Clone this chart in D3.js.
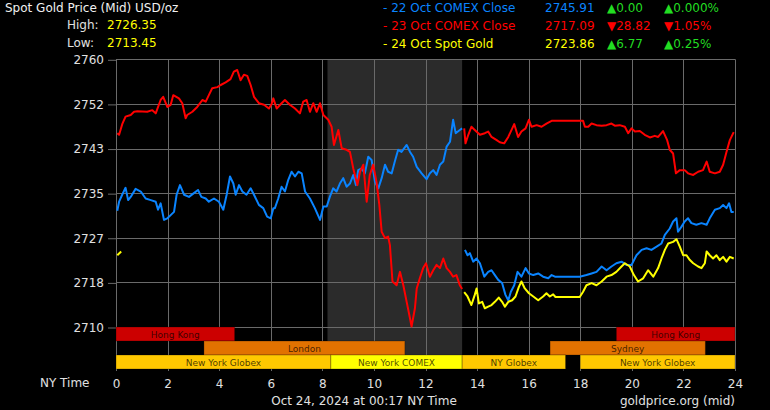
<!DOCTYPE html>
<html>
<head>
<meta charset="utf-8">
<script src="https://cdn.jsdelivr.net/npm/d3@7/dist/d3.min.js"></script>
<style>
  body { margin: 0; background: #000; }
  svg text { font-family: "DejaVu Sans", Verdana, sans-serif; }
</style>
</head>
<body>
<div id="chart"></div>
<script>
// ---- data ----
const yTicks = [2710, 2718.33, 2726.67, 2735, 2743.33, 2751.67, 2760];
const xTicks = [0, 2, 4, 6, 8, 10, 12, 14, 16, 18, 20, 22, 24];

// [hour, price] - 22 Oct line, before and after the COMEX close
const blueA = [[0.05,2731.7],[0.12,2733.4],[0.24,2734.7],[0.37,2736.0],[0.47,2733.7],[0.57,2734.3],[0.76,2735.8],[0.96,2735.3],[1.15,2734.0],[1.35,2733.7],[1.54,2733.4],[1.63,2731.9],[1.73,2733.1],[1.86,2730.0],[1.99,2730.3],[2.12,2730.9],[2.25,2731.5],[2.35,2734.7],[2.48,2736.5],[2.64,2734.7],[2.83,2734.3],[3.02,2735.0],[3.18,2735.6],[3.31,2734.3],[3.48,2734.0],[3.60,2733.4],[3.80,2734.0],[3.99,2733.4],[4.16,2731.9],[4.29,2734.7],[4.42,2738.1],[4.55,2736.8],[4.64,2734.7],[4.77,2736.5],[4.90,2735.3],[5.06,2734.7],[5.22,2735.9],[5.35,2734.7],[5.54,2732.8],[5.71,2732.2],[5.86,2730.6],[6.00,2730.3],[6.10,2732.2],[6.16,2732.2],[6.29,2734.0],[6.42,2736.2],[6.55,2735.3],[6.68,2737.5],[6.81,2739.0],[6.94,2738.1],[7.07,2739.0],[7.20,2738.7],[7.33,2735.3],[7.52,2734.0],[7.71,2732.2],[7.91,2730.0],[8.04,2732.5],[8.17,2732.5],[8.29,2734.3],[8.42,2735.9],[8.55,2735.3],[8.68,2736.8],[8.81,2737.8],[8.94,2736.2],[9.07,2736.8],[9.20,2738.4],[9.30,2736.5],[9.39,2739.3],[9.52,2739.6],[9.65,2738.7],[9.78,2741.8],[9.91,2741.2],[10.04,2737.1],[10.17,2735.9],[10.30,2737.8],[10.43,2740.3],[10.55,2739.0],[10.69,2738.7],[10.81,2740.9],[10.94,2743.1],[11.07,2742.7],[11.27,2744.0],[11.40,2742.7],[11.52,2741.8],[11.66,2739.9],[11.85,2738.7],[12.04,2737.6],[12.17,2738.7],[12.30,2739.3],[12.43,2738.4],[12.56,2740.3],[12.69,2740.9],[12.82,2743.7],[12.95,2744.6],[13.07,2748.7],[13.17,2746.2],[13.33,2746.8],[13.42,2747.1]];
const blueB = [[13.53,2724.4],[13.63,2723.4],[13.72,2723.8],[13.85,2722.2],[13.98,2722.8],[14.11,2721.9],[14.28,2719.4],[14.43,2720.3],[14.56,2720.6],[14.69,2719.7],[14.82,2718.8],[14.97,2718.2],[15.10,2716.0],[15.21,2715.0],[15.31,2716.6],[15.44,2717.8],[15.57,2720.3],[15.72,2719.4],[15.88,2721.0],[16.01,2720.0],[16.18,2719.7],[16.37,2720.0],[16.56,2719.4],[16.76,2719.1],[16.89,2719.7],[17.02,2719.4],[17.98,2719.4],[18.24,2719.7],[18.44,2720.0],[18.63,2720.3],[18.83,2721.3],[19.02,2720.6],[19.21,2721.3],[19.40,2721.9],[19.60,2722.2],[19.79,2721.6],[19.99,2721.6],[20.18,2723.4],[20.38,2724.4],[20.57,2724.7],[20.76,2724.4],[20.96,2725.0],[21.15,2725.6],[21.28,2727.2],[21.47,2728.4],[21.60,2729.7],[21.73,2730.3],[21.79,2727.8],[21.92,2728.7],[22.05,2729.7],[22.18,2730.3],[22.31,2729.4],[22.50,2729.1],[22.70,2729.4],[22.90,2729.1],[23.02,2730.3],[23.22,2731.9],[23.41,2732.2],[23.54,2732.8],[23.67,2732.2],[23.77,2733.1],[23.86,2731.5],[23.95,2731.5]];

// 23 Oct line
const redA = [[0.05,2746.2],[0.12,2745.9],[0.25,2748.0],[0.37,2749.3],[0.57,2749.6],[0.70,2750.2],[0.83,2750.3],[1.21,2750.2],[1.41,2750.5],[1.54,2749.9],[1.73,2752.4],[1.83,2753.0],[1.99,2751.1],[2.12,2751.5],[2.22,2753.3],[2.44,2752.7],[2.57,2751.8],[2.70,2749.0],[2.76,2749.6],[2.96,2750.2],[3.15,2751.1],[3.35,2752.4],[3.48,2752.1],[3.60,2753.3],[3.73,2754.6],[3.93,2754.8],[4.06,2755.2],[4.25,2755.7],[4.44,2756.3],[4.57,2757.7],[4.70,2758.0],[4.83,2756.1],[4.96,2757.1],[5.09,2756.9],[5.22,2755.2],[5.35,2753.0],[5.54,2751.8],[5.74,2751.5],[5.93,2750.8],[6.03,2751.6],[6.10,2752.7],[6.23,2750.8],[6.42,2751.8],[6.55,2752.4],[6.74,2751.5],[6.94,2750.8],[7.13,2749.9],[7.26,2752.1],[7.39,2752.4],[7.52,2750.2],[7.65,2751.8],[7.78,2750.2],[7.91,2751.8],[8.04,2749.6],[8.23,2748.7],[8.36,2747.4],[8.45,2744.0],[8.62,2746.8],[8.75,2743.4],[8.94,2743.1],[9.07,2742.7],[9.20,2739.6],[9.36,2736.5],[9.46,2739.0],[9.59,2740.3],[9.72,2733.4],[9.84,2738.4],[9.97,2740.3],[10.10,2737.1],[10.21,2732.8],[10.30,2727.8],[10.43,2726.6],[10.55,2726.9],[10.62,2725.3],[10.72,2718.5],[10.88,2717.8],[11.01,2720.3],[11.14,2717.8],[11.27,2714.7],[11.40,2711.6],[11.46,2710.1],[11.59,2713.5],[11.66,2717.2],[11.78,2719.1],[11.91,2721.0],[12.02,2721.9],[12.17,2719.4],[12.30,2720.6],[12.43,2721.6],[12.56,2721.0],[12.69,2722.8],[12.82,2721.0],[12.95,2720.3],[13.07,2719.4],[13.20,2719.7],[13.33,2717.8],[13.42,2717.1]];
const redB = [[13.50,2747.1],[13.55,2744.3],[13.66,2745.9],[13.78,2747.4],[13.91,2746.8],[14.11,2745.9],[14.30,2746.2],[14.43,2746.5],[14.56,2745.5],[14.76,2744.9],[14.88,2744.5],[15.05,2744.3],[15.21,2745.5],[15.44,2747.9],[15.59,2745.5],[15.72,2746.5],[15.88,2747.1],[16.01,2748.7],[16.11,2747.4],[16.31,2747.7],[16.50,2747.4],[16.69,2748.0],[16.89,2748.5],[18.11,2748.5],[18.18,2747.4],[18.31,2747.4],[18.44,2748.0],[18.63,2747.7],[18.83,2747.6],[19.02,2747.7],[19.21,2748.0],[19.34,2747.6],[19.53,2747.7],[19.73,2747.4],[19.86,2746.2],[19.99,2747.1],[20.12,2746.5],[20.31,2746.6],[20.50,2745.9],[20.70,2745.4],[20.89,2745.7],[21.02,2745.5],[21.21,2746.6],[21.37,2744.9],[21.47,2743.1],[21.60,2742.4],[21.71,2738.7],[21.86,2739.3],[22.05,2739.3],[22.18,2738.7],[22.38,2738.4],[22.57,2739.0],[22.76,2739.3],[22.90,2740.9],[23.02,2739.0],[23.22,2738.7],[23.41,2739.0],[23.54,2740.3],[23.67,2742.7],[23.80,2744.9],[23.95,2746.4]];

// 24 Oct spot
const yellowA = [[0.05,2723.4],[0.20,2724.1]];
const yellowB = [[13.50,2716.5],[13.63,2715.7],[13.78,2714.1],[13.91,2716.0],[13.98,2717.2],[14.07,2714.4],[14.20,2714.7],[14.30,2713.5],[14.43,2713.8],[14.56,2714.1],[14.69,2714.7],[14.84,2715.5],[14.97,2714.7],[15.08,2713.8],[15.21,2714.7],[15.36,2715.0],[15.49,2715.7],[15.62,2717.5],[15.72,2718.5],[15.85,2717.2],[16.01,2716.3],[16.18,2715.7],[16.37,2715.0],[16.56,2715.7],[16.69,2716.3],[16.82,2715.7],[16.95,2716.1],[17.04,2715.6],[17.98,2715.6],[18.11,2716.6],[18.24,2717.8],[18.44,2718.2],[18.63,2717.8],[18.83,2718.5],[19.02,2719.4],[19.21,2719.7],[19.40,2720.3],[19.60,2721.3],[19.73,2721.9],[19.92,2721.3],[20.08,2719.7],[20.24,2718.5],[20.44,2719.1],[20.63,2720.6],[20.83,2719.4],[21.02,2721.0],[21.15,2722.8],[21.28,2724.4],[21.41,2725.6],[21.60,2725.9],[21.73,2726.4],[21.86,2725.0],[21.99,2723.4],[22.12,2723.4],[22.25,2722.5],[22.38,2721.9],[22.57,2721.3],[22.70,2721.0],[22.83,2721.9],[22.90,2724.1],[23.02,2723.4],[23.15,2722.8],[23.28,2723.4],[23.41,2722.5],[23.54,2723.1],[23.67,2722.2],[23.80,2723.1],[23.95,2722.8]];

// COMEX session shading (hours)
const comexShade = [8.2, 13.42];

// trading sessions
const sessionNames  = ["Hong Kong", "Hong Kong", "London", "Sydney", "New York Globex", "New York COMEX", "NY Globex", "New York Globex"];
const sessionStarts = [0, 19.4, 3.41, 16.83, 0, 8.33, 13.42, 18.0];
const sessionEnds   = [4.6, 24, 11.2, 22.85, 8.33, 13.42, 17.43, 24];
const sessionRows   = [0, 0, 1, 1, 2, 2, 2, 2];

// header
const highLow = [["High:", "2726.35"], ["Low:", "2713.45"]];
const legendLabels = ["- 22 Oct COMEX Close", "- 23 Oct COMEX Close", "- 24 Oct Spot Gold"];
const legendPrices = ["2745.91", "2717.09", "2723.86"];
const legendChanges = ["0.00", "28.82", "6.77"];
const legendPcts = ["0.000%", "1.05%", "0.25%"];
const legendUp = [true, false, true];

// ---- drawing ----
const W = 770, H = 410;
const plotL = 116, plotR = 735, plotT = 59.3, plotB = 327;
const sessTop = 327, rowH = 14;

const svg = d3.select("#chart").append("svg")
    .attr("width", W).attr("height", H)
    .style("background", "#000")
    .style("display", "block");

const x = d3.scaleLinear().domain([0, 24]).range([plotL, plotR]);
const y = d3.scaleLinear().domain([2710, 2760]).range([plotB, plotT]);

const seriesColor = ["#0a84ff", "#ff0000", "#ffff00"];
const gridColor = "#6a6a6a";

// shaded COMEX hours
svg.append("rect")
    .attr("x", x(comexShade[0]))
    .attr("y", plotT)
    .attr("width", x(comexShade[1]) - x(comexShade[0]))
    .attr("height", sessTop + 3 * rowH - plotT)
    .attr("fill", "#2b2b2b");

// vertical grid
svg.append("g").selectAll("line")
  .data(xTicks)
  .join("line")
    .attr("x1", d => Math.round(x(d)) + 0.5)
    .attr("x2", d => Math.round(x(d)) + 0.5)
    .attr("y1", plotT)
    .attr("y2", sessTop + 3 * rowH + 2)
    .attr("stroke", gridColor);

// horizontal grid
svg.append("g").selectAll("line")
  .data(yTicks)
  .join("line")
    .attr("x1", plotL)
    .attr("x2", plotR)
    .attr("y1", d => Math.round(y(d)) + 0.5)
    .attr("y2", d => Math.round(y(d)) + 0.5)
    .attr("stroke", gridColor);

// y axis
const yAxis = svg.append("g")
    .attr("transform", `translate(${plotL},0.5)`)
    .call(d3.axisLeft(y).tickValues(yTicks).tickSize(8).tickPadding(4).tickFormat(d3.format(".0f")));
yAxis.select(".domain").remove();
yAxis.selectAll("line").attr("stroke", gridColor);
yAxis.selectAll("text").attr("fill", "#e0e0e0").attr("font-size", 12)
    .attr("font-family", "DejaVu Sans, sans-serif");

// x axis
const xAxis = svg.append("g")
    .attr("transform", `translate(0,${sessTop + 3 * rowH + 2})`)
    .call(d3.axisBottom(x).tickValues(xTicks).tickSize(0).tickPadding(8));
xAxis.select(".domain").remove();
xAxis.selectAll("text").attr("fill", "#e0e0e0").attr("font-size", 12)
    .attr("font-family", "DejaVu Sans, sans-serif");

svg.append("text")
    .attr("x", 40).attr("y", 386.5)
    .attr("fill", "#e0e0e0").attr("font-size", 12)
    .text("NY Time");

// price lines
const line = d3.line().x(d => x(d[0])).y(d => y(d[1]));
const segments = [
  [blueA, 0], [blueB, 0],
  [redA, 1], [redB, 1],
  [yellowA, 2], [yellowB, 2]
];
svg.append("g").selectAll("path")
  .data(segments)
  .join("path")
    .attr("d", d => line(d[0]))
    .attr("fill", "none")
    .attr("stroke", d => seriesColor[d[1]])
    .attr("stroke-width", 2)
    .attr("stroke-linejoin", "round");

// session bars
const sessColor = name => name === "Hong Kong" ? "#cc0000"
  : (name === "London" || name === "Sydney") ? "#e27200"
  : name === "New York COMEX" ? "#ffff00" : "#ffc800";
const sess = svg.append("g").selectAll("g")
  .data(sessionNames.map((n, i) => ({ n, s: sessionStarts[i], e: sessionEnds[i], r: sessionRows[i] })))
  .join("g");
sess.append("rect")
    .attr("x", d => x(d.s))
    .attr("y", d => sessTop + d.r * rowH)
    .attr("width", d => x(d.e) - x(d.s))
    .attr("height", rowH)
    .attr("fill", d => sessColor(d.n))
    .attr("stroke", "rgba(0,0,0,0.25)")
    .attr("stroke-width", 1);
sess.append("text")
    .attr("x", d => (x(d.s) + x(d.e)) / 2)
    .attr("y", d => sessTop + d.r * rowH + 10.5)
    .attr("text-anchor", "middle")
    .attr("font-size", 9)
    .attr("fill", "#000")
    .attr("fill-opacity", 0.72)
    .text(d => d.n);

// header, left
svg.append("text")
    .attr("x", 5).attr("y", 12)
    .attr("fill", "#f0f0f0").attr("font-size", 12)
    .text("Spot Gold Price (Mid) USD/oz");
highLow.forEach((d, i) => {
  svg.append("text").attr("x", 67).attr("y", 29 + i * 18)
      .attr("fill", "#e0e0e0").attr("font-size", 12).text(d[0]);
  svg.append("text").attr("x", 107).attr("y", 29 + i * 18)
      .attr("fill", "#ffff00").attr("font-size", 12).text(d[1]);
});

// header, legend
const green = "#22dd22";
legendLabels.forEach((lab, i) => {
  const yy = 12 + i * 17.8;
  const c = seriesColor[i];
  const dc = legendUp[i] ? green : "#ff0000";
  const arrow = legendUp[i] ? "\u25B2" : "\u25BC";
  svg.append("text").attr("x", 383).attr("y", yy).attr("fill", c).attr("font-size", 12).text(lab);
  svg.append("text").attr("x", 545).attr("y", yy).attr("fill", c).attr("font-size", 12).text(legendPrices[i]);
  svg.append("text").attr("x", 607).attr("y", yy).attr("fill", dc).attr("font-size", 12).text(arrow + legendChanges[i]);
  svg.append("text").attr("x", 664).attr("y", yy).attr("fill", dc).attr("font-size", 12).text(arrow + legendPcts[i]);
});

// footer
svg.append("text")
    .attr("x", 364).attr("y", 405)
    .attr("text-anchor", "middle")
    .attr("fill", "#e0e0e0").attr("font-size", 12)
    .text("Oct 24, 2024 at 00:17 NY Time");
svg.append("text")
    .attr("x", 735).attr("y", 405)
    .attr("text-anchor", "end")
    .attr("fill", "#e0e0e0").attr("font-size", 12)
    .text("goldprice.org (mid)");
</script>
</body>
</html>
